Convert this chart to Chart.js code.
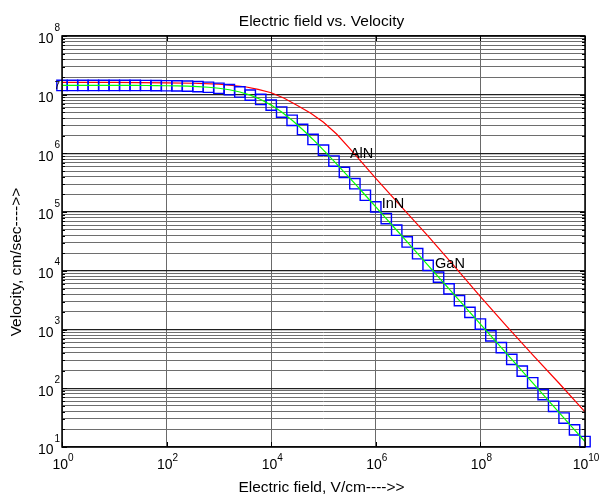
<!DOCTYPE html>
<html>
<head>
<meta charset="utf-8">
<script src="https://cdn.jsdelivr.net/npm/chart.js@4/dist/chart.umd.min.js"></script>
<style>
html,body{margin:0;padding:0;background:#ffffff;}
canvas{display:block;}
</style>
</head>
<body>
<canvas id="c" width="600" height="495"></canvas>
<script>
// ---- data ----
const chartTitle = 'Electric field vs. Velocity';
const xAxisTitle = 'Electric field, V/cm---->>';
const yAxisTitle = 'Velocity, cm/sec---->>';

// electric field (V/cm) for the GaN / InN series
const fieldValues = [
  1, 1.585, 2.512, 3.981, 6.31,
  10, 15.85, 25.12, 39.81, 63.1,
  100, 158.5, 251.2, 398.1, 631,
  1e3, 1585, 2512, 3981, 6310,
  1e4, 1.585e4, 2.512e4, 3.981e4, 6.31e4,
  1e5, 1.585e5, 2.512e5, 3.981e5, 6.31e5,
  1e6, 1.585e6, 2.512e6, 3.981e6, 6.31e6,
  1e7, 1.585e7, 2.512e7, 3.981e7, 6.31e7,
  1e8, 1.585e8, 2.512e8, 3.981e8, 6.31e8,
  1e9, 1.585e9, 2.512e9, 3.981e9, 6.31e9,
  1e10
];
// GaN velocity (green line)
const ganVelocity = [
  1.439e7, 1.439e7, 1.439e7, 1.439e7, 1.439e7,
  1.439e7, 1.439e7, 1.439e7, 1.435e7, 1.429e7,
  1.422e7, 1.413e7, 1.400e7, 1.374e7, 1.340e7,
  1.288e7, 1.216e7, 1.114e7, 9.84e6, 8.30e6,
  6.65e6, 5.07e6, 3.67e6, 2.56e6, 1.73e6,
  1.14e6, 7.41e5, 4.76e5, 3.05e5, 1.94e5,
  1.23e5, 7.78e4, 4.92e4, 3.11e4, 1.96e4,
  1.24e4, 7.82e3, 4.93e3, 3.11e3, 1.96e3,
  1.24e3, 782, 493, 311, 196,
  124, 78.2, 49.3, 31.1, 19.6,
  12.4
];
// InN velocity (blue squares)
const innVelocity = [
  1.439e7, 1.439e7, 1.439e7, 1.439e7, 1.439e7,
  1.439e7, 1.439e7, 1.439e7, 1.435e7, 1.429e7,
  1.422e7, 1.413e7, 1.400e7, 1.374e7, 1.340e7,
  1.288e7, 1.216e7, 1.114e7, 9.84e6, 8.30e6,
  6.65e6, 5.07e6, 3.67e6, 2.56e6, 1.73e6,
  1.14e6, 7.41e5, 4.76e5, 3.05e5, 1.94e5,
  1.23e5, 7.78e4, 4.92e4, 3.11e4, 1.96e4,
  1.24e4, 7.82e3, 4.93e3, 3.11e3, 1.96e3,
  1.24e3, 782, 493, 311, 196,
  124, 78.2, 49.3, 31.1, 19.6,
  12.4
];
// AlN (red line)
const alnField = [
  1, 3.162, 10, 31.62, 100, 316.2, 1e3, 3162, 5623, 1e4, 1.778e4, 3.162e4,
  5.623e4, 1e5, 1.778e5, 3.162e5, 1e6, 3.162e6, 1e7, 3.162e7, 1e8,
  3.162e8, 1e9, 3.162e9, 1e10
];
const alnVelocity = [
  1.622e7, 1.622e7, 1.622e7, 1.603e7, 1.585e7, 1.567e7, 1.514e7, 1.368e7, 1.23e7, 1.081e7, 8.71e6, 6.53e6,
  4.9e6, 3.39e6, 2.14e6, 1.222e6, 3.77e5, 1.202e5, 3.89e4, 1.202e4, 3631,
  1148, 371.5, 123, 39.8
];

// text labels placed on the plot (data coordinates)
const labelTexts = ['AlN', 'InN', 'GaN'];
const labelX = [3.2e5, 1.3e6, 1.36e7];
const labelY = [8.2e5, 1.16e5, 1.14e4];

// axis ticks
const xTickValues = [1, 1e2, 1e4, 1e6, 1e8, 1e10];
const xTickExponents = ['0', '2', '4', '6', '8', '10'];
const yMajorValues = [1e1, 1e2, 1e3, 1e4, 1e5, 1e6, 1e7, 1e8];
const yTickExponents = ['1', '2', '3', '4', '5', '6', '7', '8'];
const yMinorMultipliers = [2, 3, 4, 5, 6, 7, 8, 9];

function yGridValues() {
  const out = [];
  for (let d = 0; d < yMajorValues.length; d++) {
    out.push(yMajorValues[d]);
    if (d < yMajorValues.length - 1) {
      yMinorMultipliers.forEach(m => out.push(m * yMajorValues[d]));
    }
  }
  return out;
}
function isMajorY(v) {
  return yMajorValues.some(m => Math.abs(v - m) / m < 1e-6);
}

const FONT = '"Liberation Sans", Arial, Helvetica, sans-serif';

const overlay = {
  id: 'overlay',
  afterDraw(chart) {
    const ctx = chart.ctx;
    const a = chart.chartArea;
    const xs = chart.scales.x, ys = chart.scales.y;
    ctx.save();
    // box
    ctx.strokeStyle = '#000';
    ctx.lineWidth = 1.5;
    ctx.strokeRect(a.left, a.top, a.right - a.left, a.bottom - a.top);
    // tick marks inside on all sides
    ctx.lineWidth = 1;
    ctx.beginPath();
    yGridValues().forEach(v => {
      const py = Math.round(ys.getPixelForValue(v)) + 0.5;
      const len = isMajorY(v) ? 5 : 3;
      ctx.moveTo(a.left, py); ctx.lineTo(a.left + len, py);
      ctx.moveTo(a.right, py); ctx.lineTo(a.right - len, py);
    });
    xTickValues.forEach(v => {
      const px = Math.round(xs.getPixelForValue(v)) + 0.5;
      ctx.moveTo(px, a.bottom); ctx.lineTo(px, a.bottom - 5);
      ctx.moveTo(px, a.top); ctx.lineTo(px, a.top + 5);
    });
    ctx.stroke();

    ctx.fillStyle = '#000';
    // x tick labels
    xTickValues.forEach((v, i) => {
      const px = xs.getPixelForValue(v);
      ctx.font = '14px ' + FONT;
      const wb = ctx.measureText('10').width;
      ctx.font = '10px ' + FONT;
      const we = ctx.measureText(xTickExponents[i]).width;
      const start = px - (wb + we) / 2 + 1;
      ctx.textAlign = 'left';
      ctx.textBaseline = 'alphabetic';
      ctx.font = '14px ' + FONT;
      ctx.fillText('10', start, a.bottom + 21.5);
      ctx.font = '10px ' + FONT;
      ctx.fillText(xTickExponents[i], start + wb, a.bottom + 14);
    });
    // y tick labels
    yMajorValues.forEach((v, i) => {
      const py = ys.getPixelForValue(v);
      ctx.textBaseline = 'alphabetic';
      ctx.textAlign = 'right';
      ctx.font = '14px ' + FONT;
      ctx.fillText('10', a.left - 8.5, py + 7.3);
      ctx.textAlign = 'left';
      ctx.font = '10px ' + FONT;
      ctx.fillText(yTickExponents[i], a.left - 7.5, py - 5.5);
    });
    // title
    ctx.textAlign = 'center';
    ctx.textBaseline = 'alphabetic';
    ctx.font = '15.5px ' + FONT;
    ctx.fillText(chartTitle, (a.left + a.right) / 2 - 2, 25.5);
    // x axis title
    ctx.fillText(xAxisTitle, (a.left + a.right) / 2 - 2, 491.5);
    // y axis title
    ctx.save();
    ctx.translate(20.5, 262);
    ctx.rotate(-Math.PI / 2);
    ctx.fillText(yAxisTitle, 0, 0);
    ctx.restore();
    // in-plot labels
    ctx.textAlign = 'left';
    ctx.font = '14.5px ' + FONT;
    labelTexts.forEach((t, i) => {
      ctx.fillText(t, xs.getPixelForValue(labelX[i]), ys.getPixelForValue(labelY[i]));
    });
    ctx.restore();
  }
};

new Chart(document.getElementById('c'), {
  type: 'line',
  data: {
    datasets: [
      {
        label: 'GaN',
        data: fieldValues.map((x, i) => ({ x: x, y: ganVelocity[i] })),
        borderColor: '#00ff00',
        borderWidth: 1.2,
        pointRadius: 0,
        fill: false,
        tension: 0,
        order: 1
      },
      {
        label: 'InN',
        data: fieldValues.map((x, i) => ({ x: x, y: innVelocity[i] })),
        showLine: false,
        pointStyle: 'rect',
        pointRadius: 7.3,
        pointBorderWidth: 1.4,
        pointBorderColor: '#0000ff',
        pointBackgroundColor: 'rgba(0,0,0,0)',
        borderColor: '#0000ff',
        backgroundColor: 'rgba(0,0,0,0)',
        clip: false,
        order: 2
      },
      {
        label: 'AlN',
        data: alnField.map((x, i) => ({ x: x, y: alnVelocity[i] })),
        borderColor: '#ff0000',
        borderWidth: 1.2,
        pointRadius: 0,
        fill: false,
        tension: 0,
        order: 3
      }
    ]
  },
  options: {
    responsive: false,
    animation: false,
    events: [],
    layout: { padding: { left: 62, right: 15, top: 36, bottom: 48 } },
    plugins: {
      legend: { display: false },
      title: { display: false },
      tooltip: { enabled: false }
    },
    scales: {
      x: {
        type: 'logarithmic',
        min: 1, max: 1e10,
        afterBuildTicks: s => { s.ticks = xTickValues.map(v => ({ value: v })); },
        ticks: { display: false },
        grid: { drawTicks: false, color: '#6a6a6a', lineWidth: 1 },
        border: { display: false }
      },
      y: {
        type: 'logarithmic',
        min: 10, max: 1e8,
        afterBuildTicks: s => { s.ticks = yGridValues().map(v => ({ value: v })); },
        ticks: { display: false },
        grid: {
          drawTicks: false,
          color: c => (c.tick && isMajorY(c.tick.value)) ? '#202020' : '#6e6e6e',
          lineWidth: c => (c.tick && isMajorY(c.tick.value)) ? 1.3 : 1
        },
        border: { display: false }
      }
    }
  },
  plugins: [overlay]
});
</script>
</body>
</html>
